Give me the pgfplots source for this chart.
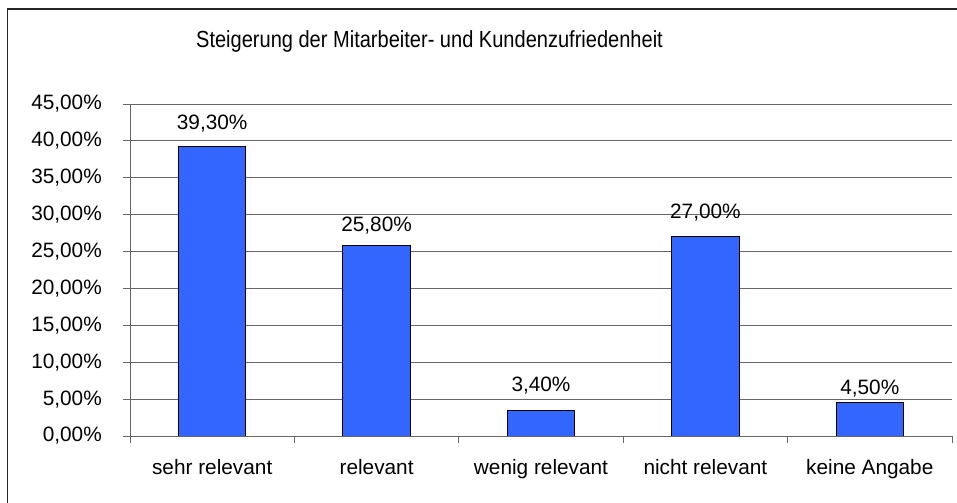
\documentclass[border=0pt]{standalone}
\usepackage{pgfplots}
\pgfplotsset{compat=1.18}
\usepackage{fontspec}
\setmainfont{Liberation Sans}
\newfontfamily\titlefont[FakeStretch=0.86]{Liberation Sans}
\definecolor{barblue}{HTML}{3366FF}
\definecolor{gridgray}{HTML}{666666}
\pgfkeys{/pgf/number format/assume math mode=true}
\begin{document}
\begin{tikzpicture}
\useasboundingbox (0,0) rectangle (957bp,503bp);
\clip (0,0) rectangle (957bp,503bp);
\fill[white] (0,0) rectangle (957bp,503bp);
\draw[line width=1.5bp, black!85] (7.5bp,-10bp) -- (7.5bp,494bp) -- (970bp,494bp);
\node[anchor=base, inner sep=0pt, font=\titlefont\fontsize{23.3bp}{28bp}\selectfont] at (429.5bp,455bp) {Steigerung der Mitarbeiter- und Kundenzufriedenheit};
\begin{axis}[
  at={(130bp,67bp)}, anchor=south west,
  width=822bp, height=332bp, scale only axis,
  xmin=-0.5, xmax=4.5, ymin=0, ymax=45,
  axis lines=left,
  axis line style={-, gridgray, line width=0.8bp},
  xtick={-0.5,0.5,1.5,2.5,3.5,4.5},
  xticklabels={},
  extra x ticks={0,1,2,3,4},
  extra x tick labels={sehr relevant, relevant, wenig relevant, nicht relevant, keine Angabe},
  extra x tick style={major tick length=0pt, grid=none},
  ytick={0,5,...,45},
  ymajorgrids,
  major grid style={gridgray, line width=0.8bp},
  tick align=outside, major tick length=7bp,
  tick style={gridgray, line width=0.8bp},
  yticklabel={\pgfmathprintnumber[fixed,fixed zerofill,precision=2,use comma]{\tick}\%},
  ticklabel style={font=\fontsize{20.8bp}{24bp}\selectfont, text=black},
  yticklabel style={anchor=east, inner sep=0pt, xshift=-21bp},
  xticklabel style={anchor=base, inner sep=0pt, yshift=-38bp},
]
\addplot[ybar, bar width=0.41, fill=barblue, draw=black, line width=1bp,
  nodes near coords={\pgfmathprintnumber[fixed,fixed zerofill,precision=2,use comma]{\pgfplotspointmeta}\%},
  visualization depends on={value \thisrow{off} \as \off},
  every node near coord/.append style={anchor=base, inner sep=0pt, yshift=\off bp, font=\fontsize{20.8bp}{24bp}\selectfont, text=black}
] table {
x y off
0 39.3 17
1 25.8 14
2 3.4 19
3 27.0 18
4 4.5 8
};
\end{axis}
\end{tikzpicture}
\end{document}
